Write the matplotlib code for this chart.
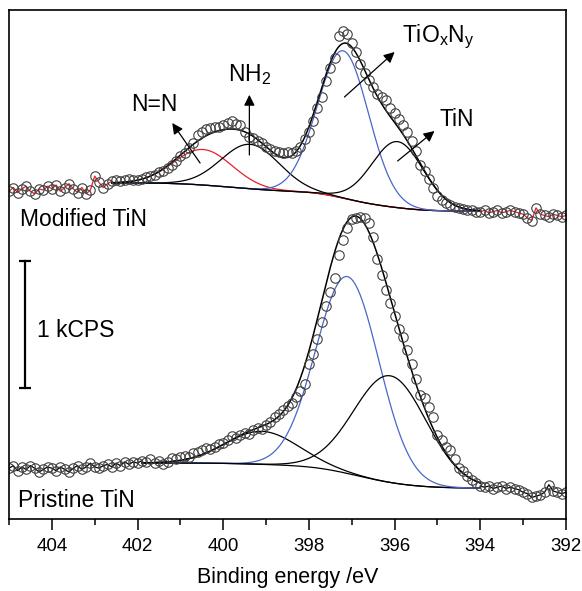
import numpy as np
import matplotlib.pyplot as plt
from matplotlib.ticker import MultipleLocator

plt.rcParams['font.family'] = ['Liberation Sans', 'DejaVu Sans']
plt.rcParams['mathtext.fontset'] = 'custom'
plt.rcParams['mathtext.rm'] = 'Liberation Sans'
plt.rcParams['mathtext.it'] = 'Liberation Sans:italic'

# ============================================================
# measured points, binding energy 405.0 -> 392.0 eV, step 0.1 eV (kCPS, stacked)
E = np.round(np.arange(405.0, 391.95, -0.1), 1)

MOD_Y = [2.58, 2.61, 2.57, 2.60, 2.62, 2.58, 2.56, 2.60, 2.59, 2.62,
         2.60, 2.63, 2.58, 2.61, 2.64, 2.60, 2.57, 2.61, 2.56, 2.59,
         2.70, 2.65, 2.61, 2.64, 2.66, 2.67, 2.66, 2.67, 2.68, 2.67,
         2.67, 2.68, 2.69, 2.70, 2.71, 2.73, 2.74, 2.76, 2.79, 2.82,
         2.86, 2.88, 2.92, 2.96, 3.02, 3.05, 3.07, 3.08, 3.09, 3.09,
         3.10, 3.12, 3.13, 3.11, 3.10, 3.05, 3.01, 3.00, 2.98, 2.96,
         2.93, 2.91, 2.90, 2.89, 2.88, 2.89, 2.88, 2.90, 2.93, 2.99,
         3.05, 3.13, 3.24, 3.32, 3.45, 3.55, 3.63, 3.80, 3.84, 3.82,
         3.75, 3.68, 3.58, 3.51, 3.46, 3.40, 3.35, 3.32, 3.30, 3.24,
         3.20, 3.15, 3.10, 3.05, 2.98, 2.90, 2.79, 2.74, 2.68, 2.61,
         2.54, 2.51, 2.49, 2.47, 2.46, 2.45, 2.44, 2.43, 2.43, 2.42,
         2.42, 2.43, 2.41, 2.42, 2.43, 2.41, 2.42, 2.43, 2.42, 2.41,
         2.40, 2.37, 2.35, 2.45, 2.40, 2.39, 2.38, 2.40, 2.39, 2.38,
         2.39]

PRI_Y = [0.40, 0.42, 0.38, 0.41, 0.39, 0.42, 0.40, 0.37, 0.39, 0.41,
         0.40, 0.38, 0.41, 0.39, 0.37, 0.40, 0.42, 0.39, 0.41, 0.44,
         0.41, 0.40, 0.42, 0.43, 0.41, 0.44, 0.42, 0.45, 0.43, 0.45,
         0.44, 0.46, 0.45, 0.47, 0.44, 0.46, 0.43, 0.45, 0.48, 0.47,
         0.49, 0.50, 0.49, 0.52, 0.53, 0.54, 0.56, 0.55, 0.57, 0.59,
         0.60, 0.62, 0.65, 0.64, 0.66, 0.68, 0.67, 0.70, 0.72, 0.71,
         0.74, 0.76, 0.80, 0.83, 0.86, 0.89, 0.91, 0.96, 1.01, 1.06,
         1.22, 1.30, 1.42, 1.55, 1.68, 1.79, 1.90, 2.08, 2.20, 2.29,
         2.36, 2.37, 2.38, 2.37, 2.33, 2.22, 2.05, 1.92, 1.80, 1.70,
         1.60, 1.50, 1.43, 1.33, 1.22, 1.10, 0.98, 0.95, 0.88, 0.80,
         0.66, 0.62, 0.57, 0.54, 0.47, 0.40, 0.38, 0.34, 0.31, 0.28,
         0.26, 0.25, 0.26, 0.24, 0.25, 0.26, 0.24, 0.25, 0.24, 0.23,
         0.21, 0.20, 0.17, 0.18, 0.19, 0.21, 0.27, 0.22, 0.21, 0.20,
         0.21]

# fitted components: centre (eV), height (kCPS), FWHM (eV)
MOD_RANGE = (402.6, 394.0)
MOD_BKG = (2.646, 2.425)          # Shirley end levels (high BE, low BE)
MOD_NN = (400.47, 0.28, 1.60)
MOD_NH2 = (399.37, 0.35, 1.60)
MOD_TIOXNY = (397.20, 1.16, 1.40)
MOD_TIN = (395.93, 0.52, 1.42)

PRI_RANGE = (401.9, 394.0)
PRI_BKG = (0.441, 0.244)
PRI_HIGH = (399.10, 0.26, 2.00)
PRI_TIOXNY = (397.10, 1.55, 1.73)
PRI_TIN = (396.10, 0.84, 2.00)

BLUE = '#4a67c8'
RED = '#e8202a'


def gauss(e, c, h, fwhm):
    s = fwhm / 2.3548
    return h * np.exp(-0.5 * ((e - c) / s) ** 2)


def shirley(e, peaks, b_high, b_low):
    # e runs from high to low binding energy
    total = np.sum(peaks, axis=0)
    below = np.cumsum(total[::-1])[::-1]
    return b_low + (b_high - b_low) * below / below[0]


fig = plt.figure(figsize=(5.82, 5.91), dpi=100)
ax = fig.add_axes([9 / 582, 72 / 591, 557 / 582, 509 / 591])

E_arr = np.array(E)
mod = np.array(MOD_Y)
pri = np.array(PRI_Y)
mk = dict(ms=6.8, mfc='none', mec='#404040', mew=0.8)

# ---- modified TiN
ef = np.linspace(MOD_RANGE[0], MOD_RANGE[1], 500)
comps = [gauss(ef, *p) for p in (MOD_NN, MOD_NH2, MOD_TIOXNY, MOD_TIN)]
bk = shirley(ef, comps, *MOD_BKG)
lw = 0.9
ax.plot(ef, bk, color='k', lw=lw)
ax.plot(ef, bk + comps[0], color=RED, lw=lw)
ax.plot(ef, bk + comps[1], color='k', lw=lw)
ax.plot(ef, bk + comps[2], color=BLUE, lw=lw)
ax.plot(ef, bk + comps[3], color='k', lw=lw)
ax.plot(ef, bk + sum(comps), color='k', lw=1.1)
left = E_arr >= MOD_RANGE[0] - 0.05
right = E_arr <= MOD_RANGE[1] + 0.05
ax.plot(E_arr[left], mod[left], color=RED, lw=lw)
ax.plot(E_arr[right], mod[right], color=RED, lw=lw)
ax.plot(E_arr, mod, 'o', **mk)

# ---- pristine TiN
ef = np.linspace(PRI_RANGE[0], PRI_RANGE[1], 500)
comps = [gauss(ef, *p) for p in (PRI_HIGH, PRI_TIOXNY, PRI_TIN)]
bk = shirley(ef, comps, *PRI_BKG)
ax.plot(ef, bk, color='k', lw=lw)
ax.plot(ef, bk + comps[0], color='k', lw=lw)
ax.plot(ef, bk + comps[1], color=BLUE, lw=lw)
ax.plot(ef, bk + comps[2], color='k', lw=lw)
ax.plot(ef, bk + sum(comps), color='k', lw=1.1)
left = E_arr >= PRI_RANGE[0] - 0.05
right = E_arr <= PRI_RANGE[1] + 0.05
ax.plot(E_arr[left], pri[left], color='k', lw=lw)
ax.plot(E_arr[right], pri[right], color='k', lw=lw)
ax.plot(E_arr, pri, 'o', **mk)

# ---- labels and arrows
fs = 16.5
arr = dict(arrowstyle='-|>', color='k', lw=0.9, mutation_scale=16, shrinkA=0, shrinkB=0)
ax.annotate('', xy=(401.19, 3.118), xytext=(400.54, 2.803), arrowprops=arr)
ax.text(401.60, 3.26, 'N=N', fontsize=fs, ha='center', va='center')
ax.annotate('', xy=(399.39, 3.34), xytext=(399.39, 2.866), arrowprops=arr)
ax.text(399.88, 3.50, r'NH$_\mathregular{2}$', fontsize=fs, ha='left', va='center')
ax.annotate('', xy=(396.0, 3.677), xytext=(397.17, 3.323), arrowprops=arr)
ax.text(395.82, 3.80, r'TiO$_\mathregular{x}$N$_\mathregular{y}$', fontsize=fs, ha='left', va='center')
ax.annotate('', xy=(395.07, 3.055), xytext=(395.93, 2.819), arrowprops=arr)
ax.text(394.95, 3.146, 'TiN', fontsize=fs, ha='left', va='center')

ax.text(404.74, 2.307, 'Modified TiN', fontsize=fs, ha='left', va='baseline')
ax.text(404.79, 0.094, 'Pristine TiN', fontsize=fs, ha='left', va='baseline')

# scale bar
ax.plot([404.63, 404.63], [1.034, 2.034], color='k', lw=1.6)
ax.plot([404.63, 404.63], [1.034, 2.034], '_', color='k', ms=8, mew=1.6)
ax.text(404.35, 1.488, '1 kCPS', fontsize=fs, ha='left', va='center')

ax.set_xlim(405, 392)
ax.set_ylim(0, 509 / 127)
ax.set_yticks([])
ax.xaxis.set_major_locator(MultipleLocator(2))
ax.xaxis.set_minor_locator(MultipleLocator(1))
ax.tick_params(axis='x', which='major', direction='out', length=8, width=1.1,
               labelsize=13.5, pad=6)
ax.tick_params(axis='x', which='minor', direction='out', length=4.5, width=1.1)
for s in ax.spines.values():
    s.set_linewidth(1.2)
ax.set_xlabel('Binding energy /eV', fontsize=15.5, labelpad=8)

fig.savefig('out.png', dpi=100)
